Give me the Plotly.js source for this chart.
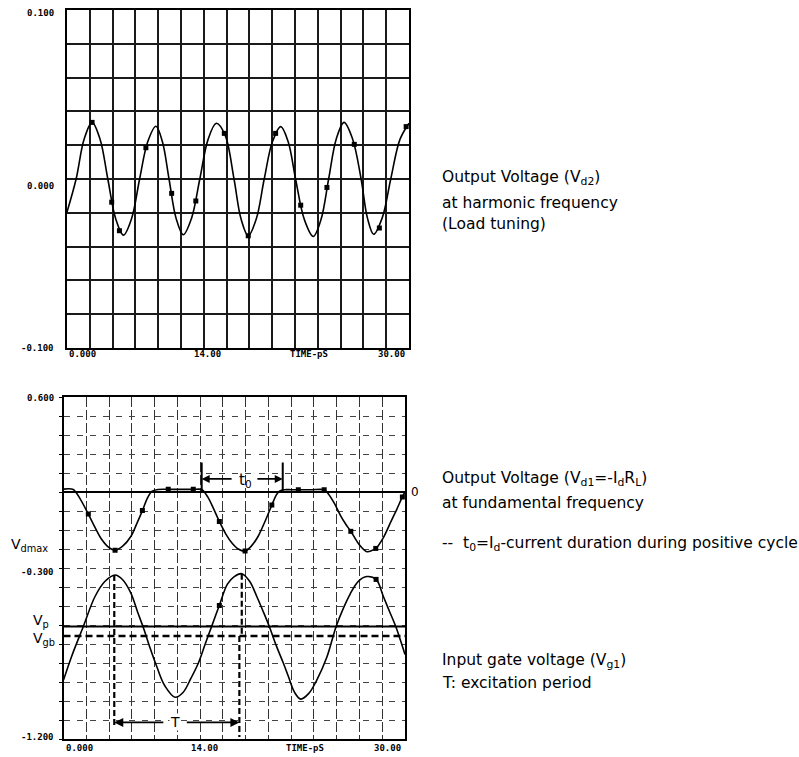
<!DOCTYPE html>
<html>
<head>
<meta charset="utf-8">
<script src="https://cdn.plot.ly/plotly-3.0.1.min.js"></script>
<style>html,body{margin:0;padding:0;background:#fff;}#chart{width:799px;height:757px;}</style>
</head>
<body>
<div id="chart"></div>
<script>
// ---------- DATA ----------
// Top panel: output voltage Vd2 at harmonic frequency
const topT = [0, 0.8, 1.5, 2.2, 2.9, 3.58, 4.27, 4.95, 5.66, 6.37, 7.08, 7.8, 8.37, 8.95, 9.57, 10.2, 10.92, 11.65, 12.37, 13.1, 13.87, 14.65, 15.27, 15.9, 16.6, 17.3, 18.02, 18.75, 19.4, 20.05, 20.82, 21.6, 22.28, 22.95, 23.62, 24.3, 25.05, 25.8, 26.35, 26.9, 27.65, 28.4, 29.2, 30];
const topV = [-0.0195, 0.0, 0.0235, 0.0335, 0.0235, 0.0, -0.0235, -0.0332, -0.0235, 0.0, 0.022, 0.0312, 0.022, 0.0, -0.0233, -0.033, -0.0233, 0.0, 0.0233, 0.033, 0.026, 0.0, -0.0237, -0.0336, -0.0237, 0.0, 0.022, 0.031, 0.022, 0.0, -0.024, -0.034, -0.024, 0.0, 0.0237, 0.0335, 0.0237, 0.0, -0.023, -0.0327, -0.023, 0.0, 0.0233, 0.033];
const topMarkT = [2.2, 3.92, 4.6, 6.92, 9.18, 11.3, 13.8, 15.9, 18.3, 20.5, 22.8, 25.2, 27.4, 29.75];
const topMarkV = [0.0335, -0.0137, -0.0306, 0.0185, -0.0085, -0.013, 0.027, -0.0336, 0.027, -0.0155, -0.005, 0.0205, -0.029, 0.031];

// Bottom panel: output voltage Vd1 at fundamental frequency
const vd1T = [0, 0.86, 1.5, 2.18, 2.8, 3.36, 3.95, 4.53, 5.2, 5.93, 6.45, 6.93, 7.35, 7.75, 8.3, 9.2, 10.3, 11.4, 12.14, 12.67, 13.2, 13.69, 14.25, 14.78, 15.35, 15.95, 16.5, 17.1, 17.7, 18.3, 18.7, 19.0, 19.4, 20.0, 20.63, 21.8, 22.9, 23.27, 23.8, 24.3, 24.8, 25.24, 25.95, 26.64, 27.43, 28.1, 28.7, 29.25, 29.77, 30];
const vd1V = [0.115, 0.113, 0.06, -0.016, -0.09, -0.15, -0.19, -0.206, -0.185, -0.133, -0.065, 0.002, 0.065, 0.103, 0.113, 0.114, 0.114, 0.114, 0.113, 0.074, 0.01, -0.055, -0.12, -0.167, -0.2, -0.211, -0.185, -0.133, -0.055, 0.031, 0.085, 0.105, 0.112, 0.112, 0.112, 0.112, 0.112, 0.09, 0.04, -0.02, -0.07, -0.107, -0.175, -0.214, -0.197, -0.14, -0.064, 0.005, 0.074, 0.1];
const vd1MarkT = [2.18, 4.53, 6.93, 9.2, 11.4, 13.69, 15.95, 18.3, 20.63, 22.9, 25.24, 27.43, 29.77];
const vd1MarkV = [-0.016, -0.206, 0.002, 0.114, 0.114, -0.055, -0.211, 0.031, 0.112, 0.112, -0.107, -0.197, 0.074];

// Bottom panel: input gate voltage Vg1
const vg1T = [0, 0.72, 1.74, 2.77, 3.65, 4.53, 5.2, 5.9, 6.5, 7.05, 7.6, 8.2, 8.9, 9.8, 10.5, 11.2, 11.85, 12.45, 13.0, 13.69, 14.4, 15.0, 15.66, 16.35, 16.98, 17.55, 18.08, 18.7, 19.31, 19.75, 20.3, 20.84, 21.55, 22.25, 23.13, 23.95, 24.6, 25.18, 25.9, 26.64, 27.46, 28.1, 28.65, 29.19, 29.6, 30];
const vg1V = [-0.89, -0.764, -0.608, -0.45, -0.37, -0.337, -0.362, -0.43, -0.53, -0.62, -0.72, -0.82, -0.92, -0.98, -0.955, -0.88, -0.8, -0.7, -0.61, -0.497, -0.385, -0.345, -0.33, -0.37, -0.45, -0.53, -0.608, -0.71, -0.8, -0.87, -0.955, -0.99, -0.96, -0.89, -0.77, -0.608, -0.51, -0.437, -0.37, -0.345, -0.36, -0.45, -0.53, -0.608, -0.68, -0.755];
const vg1MarkT = [13.69, 27.46];
const vg1MarkV = [-0.497, -0.36];

// Reference levels (bottom panel)
const zeroLevel = 0.1;     // "0" line of Vd1
const vpLevel = -0.608;    // Vp
const vgbLevel = -0.658;   // Vgb

// Time markers (bottom panel)
const t0Start = 12.14, t0End = 19.26, t0Level = 0.169, t0Top = 0.255;
const periodStart = 4.46, periodPeakRight = 15.66, periodEnd = 15.45, periodLevel = -1.113;
const vg1PeakLeft = -0.337, vg1PeakRight = -0.33;

// Tick labels
const xLabelText = ["0.000", "14.00", "TIME-pS", "30.00"];
const xLabelPos = [0, 11.0, 19.35, 29.85];
const topYLabelVals = [0.1, 0.0, -0.1];
const topYLabelText = ["0.100", "0.000", "-0.100"];
const botYLabelVals = [0.6, -0.3, -1.2];
const botYLabelText = ["0.600", "-0.300", "-1.200"];

// ---------- CHART ----------
const W = 799, H = 757;
const px = x => x / W;
const py = y => 1 - y / H;

const lineStyle = {color: '#000', width: 1.6, shape: 'spline', smoothing: 1};
const markStyle = {color: '#000', size: 5, symbol: 'square'};

const traces = [
  {x: topT, y: topV, xaxis: 'x', yaxis: 'y', mode: 'lines', line: lineStyle, hoverinfo: 'skip'},
  {x: topMarkT, y: topMarkV, xaxis: 'x', yaxis: 'y', mode: 'markers', marker: markStyle, hoverinfo: 'skip'},
  {x: vd1T, y: vd1V, xaxis: 'x2', yaxis: 'y2', mode: 'lines', line: Object.assign({}, lineStyle, {smoothing: 0.8}), hoverinfo: 'skip'},
  {x: vd1MarkT, y: vd1MarkV, xaxis: 'x2', yaxis: 'y2', mode: 'markers', marker: markStyle, hoverinfo: 'skip'},
  {x: vg1T, y: vg1V, xaxis: 'x2', yaxis: 'y2', mode: 'lines', line: lineStyle, hoverinfo: 'skip'},
  {x: vg1MarkT, y: vg1MarkV, xaxis: 'x2', yaxis: 'y2', mode: 'markers', marker: markStyle, hoverinfo: 'skip'}
];

const tickFont = {family: 'DejaVu Sans Mono', size: 9, color: '#000'};
const textFont = {family: 'DejaVu Sans', size: 15.5, color: '#000'};
const annotations = [];

// x tick labels for both panels
xLabelText.forEach((t, i) => {
  const anchor = i === xLabelText.length - 1 ? 'right' : 'left';
  annotations.push({xref: 'x', yref: 'paper', x: xLabelPos[i], y: py(354), text: '<b>' + t + '</b>', showarrow: false, xanchor: anchor, yanchor: 'middle', font: tickFont});
  annotations.push({xref: 'x2', yref: 'paper', x: xLabelPos[i], y: py(748), text: '<b>' + t + '</b>', showarrow: false, xanchor: anchor, yanchor: 'middle', font: tickFont});
});
topYLabelText.forEach((t, i) => {
  annotations.push({xref: 'paper', yref: 'y', x: px(56), y: topYLabelVals[i], yshift: i === 0 ? -3 : (i === 1 ? -7 : 0), text: '<b>' + t + '</b>', showarrow: false, xanchor: 'right', yanchor: 'middle', font: tickFont});
});
botYLabelText.forEach((t, i) => {
  annotations.push({xref: 'paper', yref: 'y2', x: px(56), y: botYLabelVals[i], yshift: i === 1 ? -4 : (i === 0 ? -1 : 2), text: '<b>' + t + '</b>', showarrow: false, xanchor: 'right', yanchor: 'middle', font: tickFont});
});

// left labels of bottom panel
const symFont = {family: 'DejaVu Sans', size: 14, color: '#000'};
annotations.push({xref: 'paper', yref: 'paper', x: px(50), y: py(545), text: 'V<sub>dmax</sub>', showarrow: false, xanchor: 'right', yanchor: 'middle', font: symFont});
annotations.push({xref: 'paper', yref: 'paper', x: px(31), y: py(621), text: 'V<sub>p</sub>', showarrow: false, xanchor: 'left', yanchor: 'middle', font: symFont});
annotations.push({xref: 'paper', yref: 'paper', x: px(31), y: py(639), text: 'V<sub>gb</sub>', showarrow: false, xanchor: 'left', yanchor: 'middle', font: symFont});
annotations.push({xref: 'paper', yref: 'y2', x: px(409), y: zeroLevel, text: '0', showarrow: false, xanchor: 'left', yanchor: 'middle', font: {family: 'DejaVu Sans', size: 12, color: '#000'}});

// t0 bracket
annotations.push({xref: 'x2', yref: 'y2', axref: 'x2', ayref: 'y2', x: t0Start, y: t0Level, ax: 14.9, ay: t0Level, text: '', showarrow: true, arrowhead: 2, arrowsize: 1, arrowwidth: 1.6, arrowcolor: '#000', standoff: 0});
annotations.push({xref: 'x2', yref: 'y2', axref: 'x2', ayref: 'y2', x: t0End, y: t0Level, ax: 16.9, ay: t0Level, text: '', showarrow: true, arrowhead: 2, arrowsize: 1, arrowwidth: 1.6, arrowcolor: '#000', standoff: 0});
annotations.push({xref: 'x2', yref: 'y2', x: 16.0, y: t0Level, yshift: -2, text: 't<sub>0</sub>', showarrow: false, font: {family: 'DejaVu Sans', size: 15, color: '#000'}});
// T arrow
annotations.push({xref: 'x2', yref: 'y2', axref: 'x2', ayref: 'y2', x: periodStart, y: periodLevel, ax: 8.9, ay: periodLevel, text: '', showarrow: true, arrowhead: 2, arrowsize: 1, arrowwidth: 1.8, arrowcolor: '#000', standoff: 0});
annotations.push({xref: 'x2', yref: 'y2', axref: 'x2', ayref: 'y2', x: periodEnd, y: periodLevel, ax: 10.7, ay: periodLevel, text: '', showarrow: true, arrowhead: 2, arrowsize: 1, arrowwidth: 1.8, arrowcolor: '#000', standoff: 0});
annotations.push({xref: 'x2', yref: 'y2', x: 9.8, y: periodLevel, text: 'T', showarrow: false, bgcolor: '#fff', borderpad: 0, font: {family: 'DejaVu Sans', size: 14, color: '#000'}});

// right-hand descriptions
const desc = [
  ['Output Voltage (V<sub>d2</sub>)', 178],
  ['at harmonic frequency', 203],
  ['(Load tuning)', 224],
  ['Output Voltage (V<sub>d1</sub>=-I<sub>d</sub>R<sub>L</sub>)', 479],
  ['at fundamental frequency', 503],
  ['--  t<sub>0</sub>=I<sub>d</sub>-current duration during positive cycle', 544],
  ['Input gate voltage (V<sub>g1</sub>)', 661],
  ['T: excitation period', 683]
];
desc.forEach(d => annotations.push({xref: 'paper', yref: 'paper', x: px(440), y: py(d[1]), text: d[0], showarrow: false, xanchor: 'left', yanchor: 'middle', font: textFont}));

const shapes = [
  // reference lines
  {type: 'line', xref: 'x2 domain', yref: 'y2', x0: 0, x1: 1, y0: zeroLevel, y1: zeroLevel, line: {color: '#000', width: 2}},
  {type: 'line', xref: 'x2 domain', yref: 'y2', x0: 0, x1: 1, y0: vpLevel, y1: vpLevel, line: {color: '#000', width: 2}},
  {type: 'line', xref: 'x2 domain', yref: 'y2', x0: 0, x1: 1, y0: vgbLevel, y1: vgbLevel, line: {color: '#000', width: 2.5, dash: '7px,4px'}},
  // t0 bracket verticals
  {type: 'line', xref: 'x2', yref: 'y2', x0: t0Start, x1: t0Start, y0: zeroLevel, y1: t0Top, line: {color: '#000', width: 2}},
  {type: 'line', xref: 'x2', yref: 'y2', x0: t0End, x1: t0End, y0: zeroLevel, y1: t0Top, line: {color: '#000', width: 2}},
  // period dashed verticals
  {type: 'line', xref: 'x2', yref: 'y2', x0: periodStart, x1: periodStart, y0: vg1PeakLeft, y1: periodLevel - 0.02, line: {color: '#000', width: 2.2, dash: '6px,3px'}},
  {type: 'line', xref: 'x2', yref: 'y2', x0: periodPeakRight, x1: periodPeakRight, y0: vg1PeakRight, y1: vgbLevel, line: {color: '#000', width: 2.2, dash: '6px,3px'}},
  {type: 'line', xref: 'x2', yref: 'y2', x0: periodEnd, x1: periodEnd, y0: vgbLevel, y1: -1.19, line: {color: '#000', width: 2.2, dash: '6px,3px'}}
];

const layout = {
  width: W, height: H,
  margin: {l: 0, r: 0, t: 0, b: 0},
  paper_bgcolor: '#fff', plot_bgcolor: '#fff',
  showlegend: false, hovermode: false, dragmode: false,
  xaxis: {domain: [px(67), px(409)], range: [0, 30], dtick: 2, tick0: 0, showgrid: true, gridcolor: '#1a1a1a', gridwidth: 2, zeroline: false, showline: true, mirror: true, linecolor: '#000', linewidth: 2, showticklabels: false, ticks: '', anchor: 'y', fixedrange: true},
  yaxis: {domain: [py(348), py(10)], range: [-0.1, 0.1], dtick: 0.02, tick0: 0, showgrid: true, gridcolor: '#1a1a1a', gridwidth: 2, zeroline: false, showline: true, mirror: true, linecolor: '#000', linewidth: 2, showticklabels: false, ticks: '', anchor: 'x', fixedrange: true},
  xaxis2: {domain: [px(63.5), px(405)], range: [0, 30], dtick: 2, tick0: 0, showgrid: true, gridcolor: '#333', gridwidth: 1, griddash: '10px,3px', zeroline: false, showline: true, mirror: true, linecolor: '#000', linewidth: 2, showticklabels: false, ticks: '', anchor: 'y2', fixedrange: true},
  yaxis2: {domain: [py(739), py(397)], range: [-1.2, 0.6], dtick: 0.1, tick0: 0, showgrid: true, gridcolor: '#444', gridwidth: 1, griddash: '6px,7px', zeroline: false, showline: true, mirror: true, linecolor: '#000', linewidth: 2, showticklabels: false, ticks: 'outside', ticklen: 3, tickcolor: '#000', anchor: 'x2', fixedrange: true},
  annotations: annotations,
  shapes: shapes
};

Plotly.newPlot('chart', traces, layout, {displayModeBar: false, responsive: false});
</script>
</body>
</html>
